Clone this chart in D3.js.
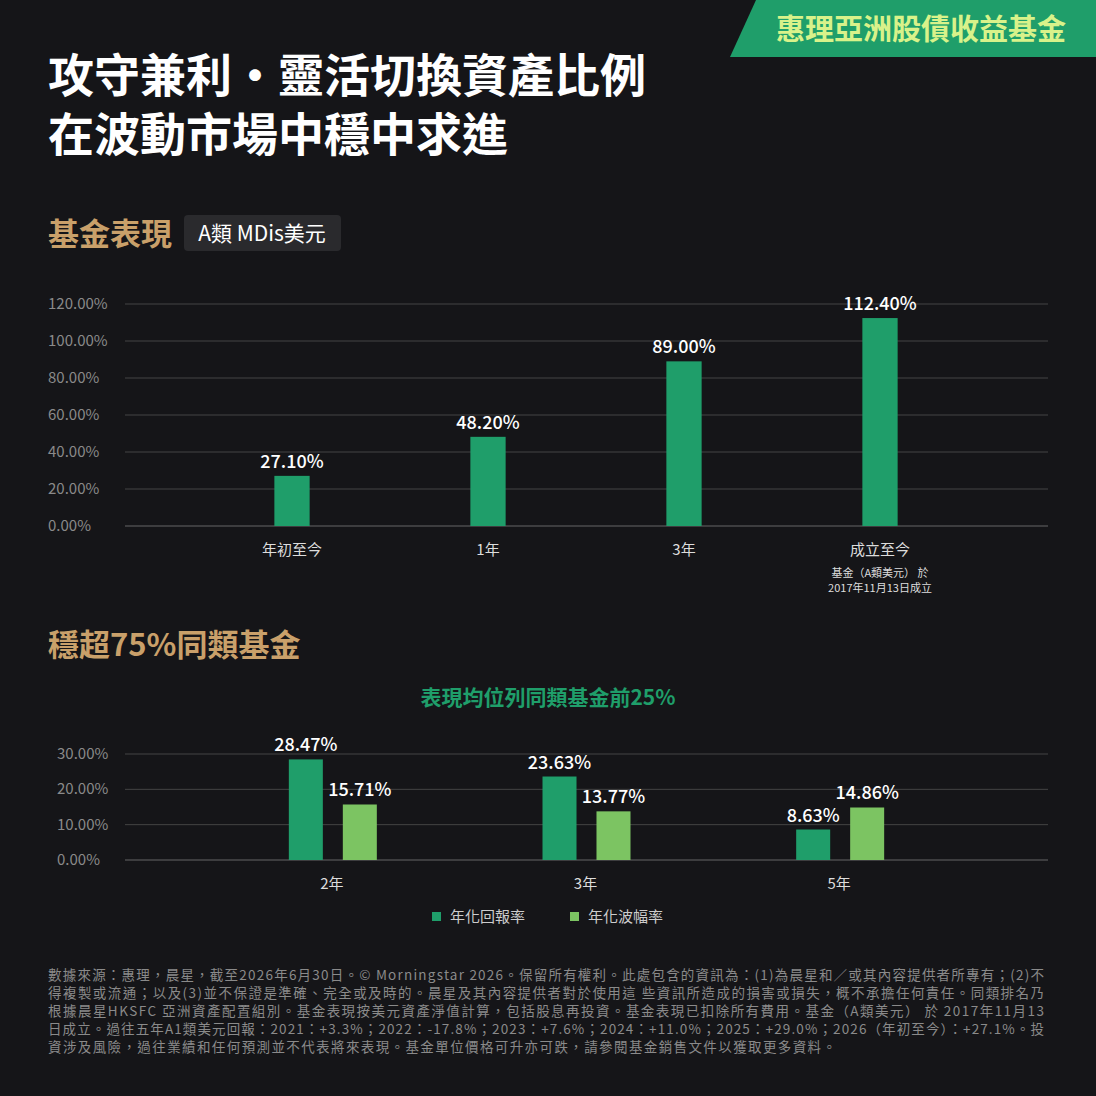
<!DOCTYPE html>
<html><head><meta charset="utf-8">
<script src="https://cdn.jsdelivr.net/npm/d3@7"></script>
<style>body{margin:0;background:#151518;}svg{display:block;font-family:"Noto Sans CJK TC","Noto Sans",sans-serif;}</style>
</head><body>
<svg id="c" width="1096" height="1096"></svg>
<script>
const perfCats=["年初至今","1年","3年","成立至今"];
const perfVals=[27.10,48.20,89.00,112.40];
const perfTicks=[0,20,40,60,80,100,120];
const peerCats=["2年","3年","5年"];
const peerReturn=[28.47,23.63,8.63];
const peerVol=[15.71,13.77,14.86];
const peerTicks=[0,10,20,30];
const seriesNames=["年化回報率","年化波幅率"];
const footnote=[
"數據來源：惠理，晨星，截至2026年6月30日。© Morningstar 2026。保留所有權利。此處包含的資訊為：(1)為晨星和／或其內容提供者所專有；(2)不",
"得複製或流通；以及(3)並不保證是準確、完全或及時的。晨星及其內容提供者對於使用這 些資訊所造成的損害或損失，概不承擔任何責任。同類排名乃",
"根據晨星HKSFC 亞洲資產配置組別。基金表現按美元資產淨值計算，包括股息再投資。基金表現已扣除所有費用。基金（A類美元） 於 2017年11月13",
"日成立。過往五年A1類美元回報：2021：+3.3%；2022：-17.8%；2023：+7.6%；2024：+11.0%；2025：+29.0%；2026（年初至今）：+27.1%。投",
"資涉及風險，過往業績和任何預測並不代表將來表現。基金單位價格可升亦可跌，請參閱基金銷售文件以獲取更多資料。"];
const svg=d3.select("#c");
svg.append("rect").attr("width",1096).attr("height",1096).attr("fill","#151518");
svg.append("path").attr("d","M756,0H1096V57H730Z").attr("fill","#1f9e6a");
svg.append("text").attr("x",921).attr("y",40).attr("text-anchor","middle").attr("font-size",29).attr("font-weight",700).attr("fill","#d8f28a").text("惠理亞洲股債收益基金");
svg.append("text").attr("x",48).attr("y",92).attr("font-size",46).attr("font-weight",700).attr("fill","#fff").text("攻守兼利・靈活切換資產比例");
svg.append("text").attr("x",48).attr("y",151).attr("font-size",46).attr("font-weight",700).attr("fill","#fff").text("在波動市場中穩中求進");
svg.append("text").attr("x",48).attr("y",245).attr("font-size",31).attr("font-weight",700).attr("fill","#c9a06a").text("基金表現");
svg.append("rect").attr("x",184).attr("y",215).attr("width",157).attr("height",36).attr("rx",4).attr("fill","#2a2a2d");
svg.append("text").attr("x",262).attr("y",241).attr("text-anchor","middle").attr("font-size",21).attr("fill","#fff").text("A類 MDis美元");

const y1=d3.scaleLinear().domain([0,120]).range([526,304]);
const x1=d3.scaleBand().domain(perfCats).range([194,978]).paddingInner(0.82).paddingOuter(0.41);
const g1=svg.append("g");
perfTicks.forEach(t=>{
 g1.append("line").attr("x1",125).attr("x2",1048).attr("y1",y1(t)).attr("y2",y1(t)).attr("stroke",t===0?"#666":"#444").attr("stroke-width",1);
 g1.append("text").attr("x",48).attr("y",y1(t)+5).attr("font-size",15).attr("fill","#8a8a8a").text(t.toFixed(2)+"%");
});
g1.selectAll(".b").data(perfVals).join("rect").attr("x",(d,i)=>x1(perfCats[i])).attr("width",x1.bandwidth()).attr("y",d=>y1(d)).attr("height",d=>y1(0)-y1(d)).attr("fill","#1f9e6a");
g1.selectAll(".l").data(perfVals).join("text").attr("x",(d,i)=>x1(perfCats[i])+x1.bandwidth()/2).attr("y",d=>y1(d)-8).attr("text-anchor","middle").attr("font-size",18).attr("font-weight",500).attr("fill","#fff").text(d=>d.toFixed(2)+"%");
perfCats.forEach(c=>g1.append("text").attr("x",x1(c)+x1.bandwidth()/2).attr("y",555).attr("text-anchor","middle").attr("font-size",15).attr("fill","#ddd").text(c));
const cx=x1("成立至今")+x1.bandwidth()/2;
g1.append("text").attr("x",cx).attr("y",577).attr("text-anchor","middle").attr("font-size",11).attr("fill","#ddd").text("基金（A類美元） 於");
g1.append("text").attr("x",cx).attr("y",592).attr("text-anchor","middle").attr("font-size",11).attr("fill","#ddd").text("2017年11月13日成立");

svg.append("text").attr("x",48).attr("y",656).attr("font-size",31).attr("font-weight",700).attr("fill","#c9a06a").text("穩超75%同類基金");
svg.append("text").attr("x",548).attr("y",705).attr("text-anchor","middle").attr("font-size",21).attr("font-weight",700).attr("fill","#1f9e6a").text("表現均位列同類基金前25%");

const y2=d3.scaleLinear().domain([0,30]).range([860,754]);
const x2=d3.scaleBand().domain(peerCats).range([205,966]);
const xs=d3.scaleBand().domain([0,1]).range([-43,45]).paddingInner(0.37);
const colors=["#1f9e6a","#7cc462"];
const g2=svg.append("g");
peerTicks.forEach(t=>{
 g2.append("line").attr("x1",125).attr("x2",1048).attr("y1",y2(t)).attr("y2",y2(t)).attr("stroke",t===0?"#666":"#444");
 g2.append("text").attr("x",57).attr("y",y2(t)+5).attr("font-size",15).attr("fill","#8a8a8a").text(t.toFixed(2)+"%");
});
[peerReturn,peerVol].forEach((arr,s)=>{
 arr.forEach((v,i)=>{
  const x=x2(peerCats[i])+x2.bandwidth()/2+xs(s);
  g2.append("rect").attr("x",x).attr("width",xs.bandwidth()).attr("y",y2(v)).attr("height",y2(0)-y2(v)).attr("fill",colors[s]);
  g2.append("text").attr("x",x+xs.bandwidth()/2).attr("y",y2(v)-8).attr("text-anchor","middle").attr("font-size",18).attr("font-weight",500).attr("fill","#fff").text(v.toFixed(2)+"%");
 });
});
peerCats.forEach(c=>g2.append("text").attr("x",x2(c)+x2.bandwidth()/2).attr("y",889).attr("text-anchor","middle").attr("font-size",15).attr("fill","#ddd").text(c));
const lx=[432,570];
seriesNames.forEach((n,i)=>{
 svg.append("rect").attr("x",lx[i]).attr("y",912).attr("width",9).attr("height",9).attr("fill",colors[i]);
 svg.append("text").attr("x",lx[i]+18).attr("y",922).attr("font-size",15).attr("fill","#ccc").text(n);
});
footnote.forEach((l,i)=>{
 const t=svg.append("text").attr("x",48).attr("y",980+i*18).attr("font-size",13.5).attr("fill","#8a8a8a").text(l);
 if(i<4) t.attr("textLength",996).attr("lengthAdjust","spacing");
 else t.attr("textLength",788).attr("lengthAdjust","spacing");
});
</script>
</body></html>
